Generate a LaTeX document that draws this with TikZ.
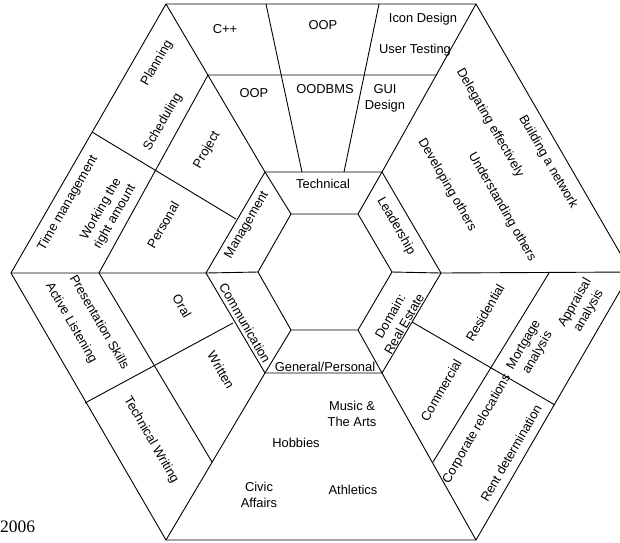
\documentclass[tikz,border=0pt]{standalone}
\usepackage{fontspec}
\setmainfont{Liberation Sans}
\newfontfamily\yearfont{Liberation Serif}
\definecolor{hexInk}{HTML}{000000}
\tikzset{
  hex edge/.style={draw=hexInk, line width=0.9pt},
  hex label/.style={font=\fontsize{12.9}{16}\selectfont, text=hexInk, inner sep=0pt, align=center},
}

\begin{document}
\begin{tikzpicture}[x=1pt, y=-1pt,
  up/.style={hex label, rotate=60},
  down/.style={hex label, rotate=-60}
]
  \useasboundingbox (0,0) rectangle (620,542);
  \clip (0,0) rectangle (620,542);

  % outer, middle and inner hexagons
  \coordinate (o1) at (166,4);   \coordinate (o2) at (476,4);
  \coordinate (o3) at (631,272); \coordinate (o4) at (476,540);
  \coordinate (o5) at (166,540); \coordinate (o6) at (11,273);
  \coordinate (m1) at (265,172); \coordinate (m2) at (382,172);
  \coordinate (m3) at (441,273); \coordinate (m4) at (382,373);
  \coordinate (m5) at (265,373); \coordinate (m6) at (206,273);
  \coordinate (i1) at (291,214); \coordinate (i2) at (358,214);
  \coordinate (i3) at (392,272); \coordinate (i4) at (358,330);
  \coordinate (i5) at (291,330); \coordinate (i6) at (258,272);

  \draw[hex edge] (o1) -- (o2) -- (o3) -- (o4) -- (o5) -- (o6) -- cycle;
  \draw[hex edge] (m1) -- (m2) -- (m3) -- (m4) -- (m5) -- (m6) -- cycle;
  \draw[hex edge] (i1) -- (i2) -- (i3) -- (i4) -- (i5) -- (i6) -- cycle;
  \foreach \k in {1,...,6}
    \draw[hex edge] (o\k) -- (m\k) -- (i\k);

  % split of the outer ring
  \coordinate (t1) at (208,75);  \coordinate (t2) at (437,75);
  \coordinate (l1) at (99,273);  \coordinate (b1) at (212,462);
  \coordinate (r1) at (549,273); \coordinate (b2) at (433,462);
  \draw[hex edge] (t2) -- (t1) -- (l1) -- (b1);
  \draw[hex edge] (r1) -- (b2);

  \coordinate (c1a) at (266,4);  \coordinate (c1b) at (302,172);
  \coordinate (c2a) at (379,4);  \coordinate (c2b) at (344,172);
  \coordinate (ula) at (92,132); \coordinate (ulb) at (236,219);
  \coordinate (lla) at (85,403); \coordinate (llb) at (233,323);
  \coordinate (lra) at (555,405); \coordinate (lrb) at (412,322);
  \draw[hex edge] (c1a) -- (c1b);
  \draw[hex edge] (c2a) -- (c2b);
  \draw[hex edge] (ula) -- (ulb);
  \draw[hex edge] (lla) -- (llb);
  \draw[hex edge] (lra) -- (lrb);

  % Technical
  \node[hex label] (cpp) at (225,29) {C++};
  \node[hex label] (oop1) at (323,25) {OOP};
  \node[hex label] (icon) at (423,19) {Icon Design};
  \node[hex label] (usertest) at (415,50) {User Testing};
  \node[hex label] (oop2) at (254,93) {OOP};
  \node[hex label] (oodbms) at (325,89) {OODBMS};
  \node[hex label] (gui) at (385,98) {GUI\\Design};
  \node[hex label] (technical) at (323,184) {Technical};

  % Leadership
  \node[down] (leadership) at (396,226) {Leadership};
  \node[down] (developing) at (447,185) {Developing others};
  \node[down] (delegating) at (490,123) {Delegating effectively};
  \node[down] (understanding) at (502,207) {Understanding others};
  \node[down] (network) at (548,162) {Building a network};

  % Domain: Real Estate
  \node[up] (domain) at (397,320) {Domain:\\Real Estate};
  \node[up] (residential) at (485,313) {Residential};
  \node[up] (commercial) at (441,390) {Commercial};
  \node[up] (mortgage) at (531,349) {Mortgage\\analysis};
  \node[up] (appraisal) at (582,307) {Appraisal\\analysis};
  \node[up] (relocations) at (477,429) {Corporate relocations};
  \node[up] (rent) at (511,453) {Rent determination};

  % General/Personal
  \node[hex label] (general) at (325,367) {General/Personal};
  \node[hex label] (music) at (352,414) {Music \&\\The Arts};
  \node[hex label] (hobbies) at (296,443) {Hobbies};
  \node[hex label] (civic) at (259,495) {Civic\\Affairs};
  \node[hex label] (athletics) at (353,490) {Athletics};

  % Communication
  \node[down] (communication) at (245,323) {Communication};
  \node[down] (oral) at (182,306) {Oral};
  \node[down] (written) at (221,370) {Written};
  \node[down] (presentation) at (100,322) {Presentation Skills};
  \node[down] (listening) at (71,323) {Active Listening};
  \node[down] (techwriting) at (151,440) {Technical Writing};

  % Management
  \node[up] (management) at (247,225) {Management};
  \node[up] (project) at (207,150) {Project};
  \node[up] (personal) at (163,225) {Personal};
  \node[up] (planning) at (157,63) {Planning};
  \node[up] (scheduling) at (163,122) {Scheduling};
  \node[up] (timemgmt) at (68,203) {Time management};
  \node[up] (working) at (108,213) {Working the\\right amount};

  \node[anchor=west, inner sep=0pt, font=\yearfont\fontsize{17.5}{20}\selectfont] (year) at (0,527) {2006};
\end{tikzpicture}
\end{document}
